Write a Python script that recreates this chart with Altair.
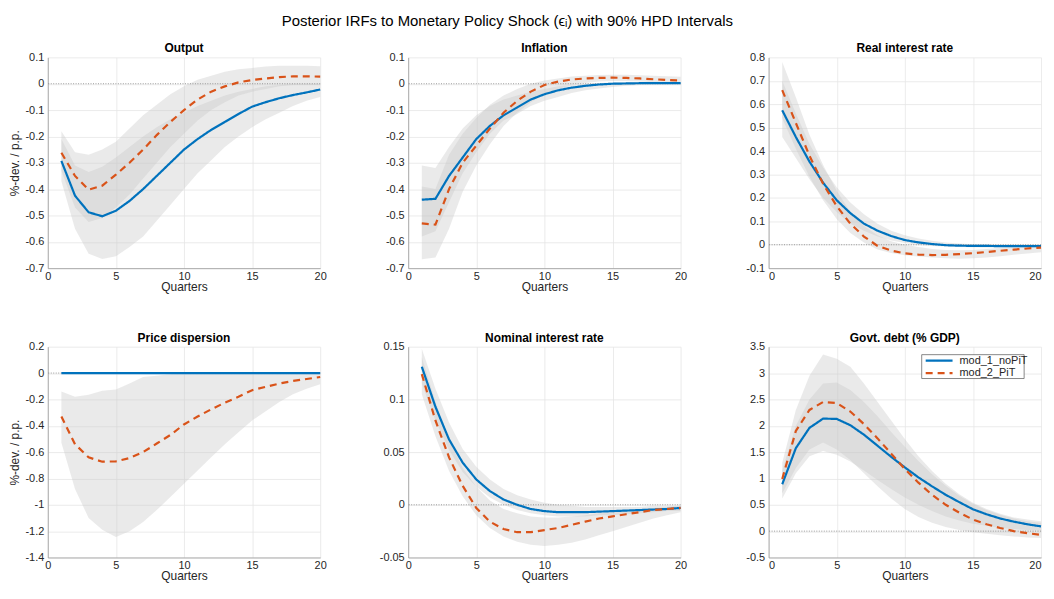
import altair as alt
import pandas as pd

quarters = list(range(1, 21))
models = ["mod_1_noPiT", "mod_2_PiT"]
blue = "#0072BD"
orange = "#D95319"

# ---- Output
out_m1 = [-0.293, -0.425, -0.488, -0.503, -0.482, -0.445, -0.40, -0.35, -0.30, -0.25,
          -0.21, -0.175, -0.145, -0.115, -0.087, -0.07, -0.055, -0.043, -0.033, -0.022]
out_m2 = [-0.262, -0.35, -0.402, -0.387, -0.345, -0.30, -0.25, -0.195, -0.145, -0.10,
          -0.06, -0.03, -0.01, 0.005, 0.014, 0.02, 0.025, 0.028, 0.028, 0.027]
out_m1_lo = [-0.37, -0.55, -0.645, -0.665, -0.655, -0.62, -0.58, -0.52, -0.46, -0.40,
             -0.34, -0.29, -0.24, -0.20, -0.165, -0.135, -0.11, -0.085, -0.065, -0.05]
out_m1_hi = [-0.21, -0.31, -0.335, -0.315, -0.28, -0.24, -0.20, -0.165, -0.135, -0.11,
             -0.085, -0.065, -0.045, -0.03, -0.02, -0.01, -0.005, 0.0, 0.0, 0.0]
out_m2_lo = [-0.33, -0.47, -0.525, -0.51, -0.47, -0.42, -0.36, -0.30, -0.24, -0.19,
             -0.14, -0.10, -0.07, -0.045, -0.03, -0.02, -0.01, -0.005, -0.005, -0.005]
out_m2_hi = [-0.18, -0.26, -0.27, -0.25, -0.22, -0.17, -0.12, -0.08, -0.04, -0.01,
             0.015, 0.03, 0.045, 0.055, 0.06, 0.065, 0.068, 0.068, 0.068, 0.066]

# ---- Inflation
inf_m1 = [-0.44, -0.437, -0.35, -0.28, -0.21, -0.16, -0.12, -0.09, -0.06, -0.04,
          -0.025, -0.015, -0.008, -0.003, 0.0, 0.001, 0.002, 0.002, 0.002, 0.002]
inf_m2 = [-0.53, -0.535, -0.40, -0.30, -0.235, -0.17, -0.11, -0.065, -0.03, -0.005,
          0.008, 0.016, 0.02, 0.022, 0.023, 0.022, 0.02, 0.017, 0.014, 0.012]
inf_m1_lo = [-0.58, -0.56, -0.45, -0.34, -0.26, -0.19, -0.14, -0.115, -0.085, -0.065,
             -0.05, -0.035, -0.025, -0.018, -0.012, -0.008, -0.005, -0.003, -0.002, -0.001]
inf_m1_hi = [-0.31, -0.32, -0.24, -0.17, -0.12, -0.085, -0.06, -0.045, -0.03, -0.02,
             -0.01, -0.005, 0.0, 0.003, 0.005, 0.006, 0.007, 0.007, 0.007, 0.007]
inf_m2_lo = [-0.666, -0.66, -0.55, -0.41, -0.31, -0.23, -0.16, -0.11, -0.07, -0.04,
             -0.02, -0.005, 0.003, 0.008, 0.01, 0.01, 0.008, 0.006, 0.004, 0.002]
inf_m2_hi = [-0.39, -0.40, -0.27, -0.19, -0.13, -0.08, -0.045, -0.02, 0.0, 0.012,
             0.02, 0.027, 0.03, 0.033, 0.034, 0.034, 0.032, 0.03, 0.028, 0.026]

# ---- Real interest rate
rir_m1 = [0.574, 0.46, 0.355, 0.265, 0.19, 0.135, 0.09, 0.06, 0.037, 0.02,
          0.01, 0.003, -0.002, -0.004, -0.005, -0.005, -0.006, -0.006, -0.006, -0.006]
rir_m2 = [0.66, 0.52, 0.38, 0.26, 0.165, 0.09, 0.035, -0.005, -0.025, -0.037,
          -0.042, -0.044, -0.043, -0.04, -0.036, -0.031, -0.026, -0.021, -0.016, -0.012]
rir_m1_lo = [0.46, 0.37, 0.28, 0.20, 0.14, 0.09, 0.06, 0.035, 0.018, 0.007,
             0.0, -0.005, -0.008, -0.01, -0.011, -0.012, -0.012, -0.012, -0.012, -0.011]
rir_m1_hi = [0.70, 0.56, 0.43, 0.33, 0.245, 0.18, 0.13, 0.09, 0.06, 0.04,
             0.027, 0.017, 0.01, 0.005, 0.002, 0.0, -0.001, -0.002, -0.002, -0.002]
rir_m2_lo = [0.54, 0.41, 0.29, 0.19, 0.11, 0.05, 0.01, -0.02, -0.035, -0.045,
             -0.05, -0.055, -0.058, -0.06, -0.058, -0.054, -0.049, -0.043, -0.037, -0.032]
rir_m2_hi = [0.78, 0.63, 0.47, 0.34, 0.23, 0.14, 0.08, 0.04, 0.015, 0.0,
             -0.01, -0.018, -0.022, -0.024, -0.022, -0.018, -0.014, -0.01, -0.005, -0.001]

# ---- Price dispersion
pd_m1 = [0.0] * 20
pd_m2 = [-0.33, -0.54, -0.64, -0.673, -0.67, -0.645, -0.60, -0.535, -0.47, -0.39,
         -0.33, -0.275, -0.225, -0.18, -0.13, -0.105, -0.08, -0.06, -0.045, -0.03]
pd_m1_lo = [0.0] * 20
pd_m1_hi = [0.0] * 20
pd_m2_lo = [-0.53, -0.88, -1.10, -1.19, -1.245, -1.20, -1.13, -1.04, -0.94, -0.84,
            -0.74, -0.64, -0.54, -0.45, -0.36, -0.29, -0.22, -0.16, -0.12, -0.085]
pd_m2_hi = [-0.14, -0.18, -0.165, -0.135, -0.125, -0.08, -0.03, -0.02, -0.01, -0.005,
            -0.004, -0.003, -0.002, -0.002, -0.001, -0.001, 0.0, 0.0, 0.0, 0.0]

# ---- Nominal interest rate
nir_m1 = [0.131, 0.093, 0.062, 0.04, 0.024, 0.013, 0.005, 0.0, -0.004, -0.006,
          -0.007, -0.007, -0.007, -0.0065, -0.006, -0.0055, -0.005, -0.0045, -0.004, -0.003]
nir_m2 = [0.124, 0.08, 0.045, 0.018, -0.003, -0.016, -0.023, -0.026, -0.026, -0.024,
          -0.022, -0.019, -0.016, -0.013, -0.011, -0.009, -0.007, -0.005, -0.004, -0.003]
nir_m1_lo = [0.115, 0.08, 0.052, 0.031, 0.017, 0.007, 0.0, -0.005, -0.008, -0.01,
             -0.011, -0.011, -0.011, -0.01, -0.01, -0.009, -0.008, -0.007, -0.006, -0.006]
nir_m1_hi = [0.148, 0.11, 0.078, 0.053, 0.036, 0.024, 0.015, 0.009, 0.005, 0.002,
             0.0, -0.001, -0.002, -0.002, -0.002, -0.002, -0.002, -0.001, -0.001, -0.001]
nir_m2_lo = [0.105, 0.065, 0.032, 0.008, -0.01, -0.022, -0.03, -0.035, -0.038, -0.039,
             -0.038, -0.036, -0.033, -0.029, -0.025, -0.021, -0.017, -0.013, -0.01, -0.007]
nir_m2_hi = [0.14, 0.098, 0.062, 0.035, 0.017, 0.004, -0.004, -0.008, -0.011, -0.012,
             -0.012, -0.011, -0.01, -0.008, -0.007, -0.005, -0.004, -0.003, -0.002, -0.001]

# ---- Govt. debt
gd_m1 = [0.89, 1.575, 1.96, 2.135, 2.13, 2.01, 1.83, 1.62, 1.41, 1.21,
         1.02, 0.85, 0.69, 0.55, 0.415, 0.32, 0.24, 0.18, 0.13, 0.09]
gd_m2 = [0.99, 1.9, 2.3, 2.45, 2.43, 2.27, 2.03, 1.76, 1.47, 1.18,
         0.92, 0.69, 0.5, 0.35, 0.22, 0.13, 0.06, 0.0, -0.04, -0.07]
gd_m1_lo = [0.62, 1.1, 1.42, 1.52, 1.45, 1.32, 1.15, 0.97, 0.8, 0.64,
            0.5, 0.38, 0.28, 0.2, 0.14, 0.1, 0.06, 0.04, 0.02, 0.01]
gd_m1_hi = [1.15, 2.0, 2.5, 2.8, 2.82, 2.68, 2.45, 2.18, 1.88, 1.6,
            1.33, 1.08, 0.86, 0.67, 0.52, 0.4, 0.31, 0.24, 0.19, 0.16]
gd_m2_lo = [0.72, 1.2, 1.55, 1.68, 1.55, 1.35, 1.1, 0.85, 0.62, 0.42,
            0.27, 0.16, 0.08, 0.02, -0.02, -0.05, -0.08, -0.1, -0.12, -0.13]
gd_m2_hi = [1.3, 2.3, 2.95, 3.35, 3.27, 3.12, 2.8, 2.45, 2.1, 1.75,
            1.42, 1.14, 0.9, 0.7, 0.54, 0.42, 0.33, 0.26, 0.22, 0.19]

x_ticks = [0, 5, 10, 15, 20]

FONT = "Liberation Sans"
TXT = "#262626"


def frames(m1, m2, m1lo, m1hi, m2lo, m2hi):
    band = pd.DataFrame({
        "q": quarters * 2,
        "model": [models[0]] * 20 + [models[1]] * 20,
        "lo": m1lo + m2lo,
        "hi": m1hi + m2hi,
    })
    line = pd.DataFrame({
        "q": quarters * 2,
        "model": [models[0]] * 20 + [models[1]] * 20,
        "val": m1 + m2,
    })
    return band, line


def panel(title, series, ydom, yticks, ytitle, w, h, legend=False, flush=False):
    band, line = frames(*series)
    xenc = alt.X("q:Q", scale=alt.Scale(domain=[0, 20], nice=False),
                 axis=alt.Axis(values=x_ticks, tickCount=len(x_ticks), title="Quarters",
                               labelFlush=flush, labelOverlap=False))
    yscale = alt.Scale(domain=ydom, nice=False, zero=False)
    yaxis = alt.Axis(values=yticks, tickCount=len(yticks), title=ytitle if ytitle else None,
                     labelExpr="'' + datum.value", labelOverlap=False, labelFlush=False)
    bands = alt.Chart(band).mark_area(color="#c8c8c8", opacity=0.38).encode(
        x=xenc,
        y=alt.Y("lo:Q", scale=yscale, axis=yaxis),
        y2="hi:Q",
        detail="model:N",
    )
    zero = alt.Chart(pd.DataFrame({"z": [0]})).mark_rule(
        color="#808080", strokeDash=[1, 1.5], strokeWidth=0.8
    ).encode(y=alt.Y("z:Q", scale=yscale))
    lines = alt.Chart(line).mark_line(strokeWidth=2.2).encode(
        x="q:Q",
        y=alt.Y("val:Q", scale=yscale),
        color=alt.Color("model:N", scale=alt.Scale(domain=models, range=[blue, orange]), legend=None),
        strokeDash=alt.StrokeDash("model:N", scale=alt.Scale(domain=models, range=[[1, 0], [7, 5]]), legend=None),
    )
    layers = [bands, zero, lines]
    if legend:
        box = alt.Chart(pd.DataFrame({"b": [1]})).mark_rect(
            fill="white", stroke="#555555", strokeWidth=0.7
        ).encode(x=alt.value(154), x2=alt.value(257), y=alt.value(8), y2=alt.value(32))
        layers.append(box)
        for i, (m, c, d) in enumerate([(models[0], blue, [1, 0]), (models[1], orange, [7, 5])]):
            yy = 14 + i * 12.5
            src = pd.DataFrame({"model": [m]})
            layers.append(alt.Chart(src).mark_rule(color=c, strokeWidth=2.2, strokeDash=d).encode(
                x=alt.value(158), x2=alt.value(185), y=alt.value(yy)))
            layers.append(alt.Chart(src).mark_text(
                align="left", baseline="middle", fontSize=11, font=FONT, color=TXT
            ).encode(x=alt.value(192), y=alt.value(yy), text="model:N"))
    return alt.layer(*layers).properties(
        width=w, height=h,
        title=alt.TitleParams(title, fontSize=12, fontWeight="bold", font=FONT, color="#000000", offset=-4),
    )


YT = "%-dev. / p.p."
H1, H2, W = 212, 212, 274
p1 = panel("Output", (out_m1, out_m2, out_m1_lo, out_m1_hi, out_m2_lo, out_m2_hi),
           [-0.7, 0.1], [-0.7, -0.6, -0.5, -0.4, -0.3, -0.2, -0.1, 0, 0.1], YT, W, H1)
p2 = panel("Inflation", (inf_m1, inf_m2, inf_m1_lo, inf_m1_hi, inf_m2_lo, inf_m2_hi),
           [-0.7, 0.1], [-0.7, -0.6, -0.5, -0.4, -0.3, -0.2, -0.1, 0, 0.1], None, W, H1)
p3 = panel("Real interest rate", (rir_m1, rir_m2, rir_m1_lo, rir_m1_hi, rir_m2_lo, rir_m2_hi),
           [-0.1, 0.8], [-0.1, 0, 0.1, 0.2, 0.3, 0.4, 0.5, 0.6, 0.7, 0.8], None, W, H1, flush=True)
p4 = panel("Price dispersion", (pd_m1, pd_m2, pd_m1_lo, pd_m1_hi, pd_m2_lo, pd_m2_hi),
           [-1.4, 0.2], [-1.4, -1.2, -1, -0.8, -0.6, -0.4, -0.2, 0, 0.2], YT, W, H2)
p5 = panel("Nominal interest rate", (nir_m1, nir_m2, nir_m1_lo, nir_m1_hi, nir_m2_lo, nir_m2_hi),
           [-0.05, 0.15], [-0.05, 0, 0.05, 0.1, 0.15], None, W, H2)
p6 = panel("Govt. debt (% GDP)", (gd_m1, gd_m2, gd_m1_lo, gd_m1_hi, gd_m2_lo, gd_m2_hi),
           [-0.5, 3.5], [-0.5, 0, 0.5, 1, 1.5, 2, 2.5, 3, 3.5], None, W, H2, legend=True, flush=True)

chart = alt.concat(p1, p2, p3, p4, p5, p6, columns=3,
                   spacing={"row": 79, "column": 88.5}, bounds="flush").properties(
    title=alt.TitleParams(
        "Posterior IRFs to Monetary Policy Shock (ϵᵢ) with 90% HPD Intervals",
        fontSize=15, fontWeight="normal", font=FONT, color="#000000", anchor="middle", dx=-20, offset=14,
    ),
    padding={"left": 1, "top": 4, "right": 0, "bottom": 0},
).configure_view(stroke=None).configure_axis(
    labelFont=FONT, titleFont=FONT, labelFontSize=11, titleFontSize=12,
    labelColor=TXT, titleColor=TXT, titleFontWeight="normal",
    gridColor="#e6e6e6", gridWidth=0.8, domainColor="#9a9a9a", domainWidth=0.8,
    ticks=False,
).configure_axisX(titlePadding=0, labelPadding=2).configure_axisY(titlePadding=3, labelPadding=4)

chart.save("out.html", embed_options={"renderer": "svg", "actions": False})
